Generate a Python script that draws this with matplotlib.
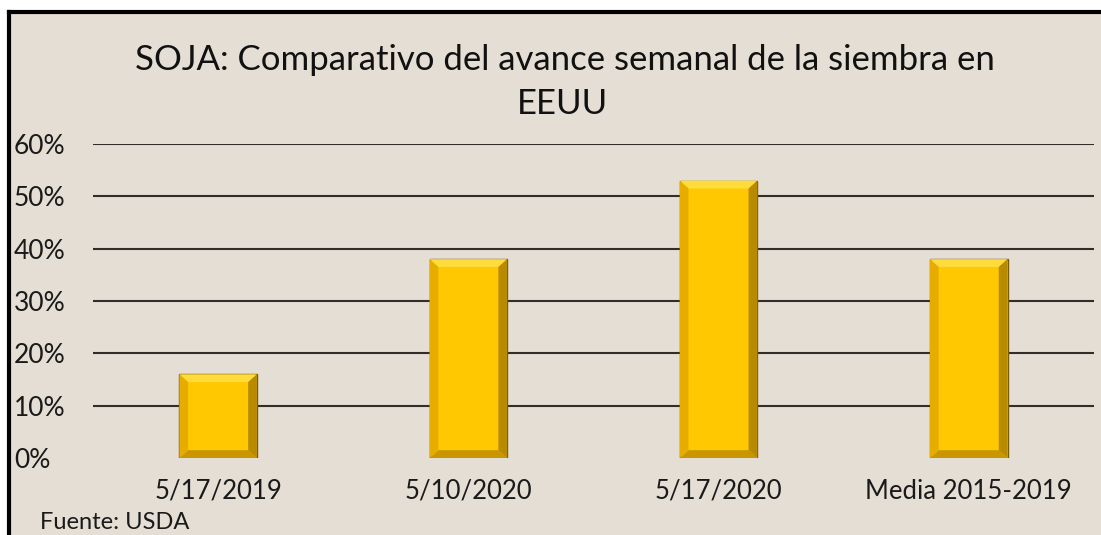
import matplotlib
matplotlib.use('Agg')
import matplotlib.pyplot as plt
from matplotlib.patches import Polygon

# data
categories = ['5/17/2019', '5/10/2020', '5/17/2020', 'Media 2015-2019']
values = [16, 38, 53, 38]
yticks = [0, 10, 20, 30, 40, 50, 60]
ytick_labels = ['0%', '10%', '20%', '30%', '40%', '50%', '60%']

plt.rcParams['font.family'] = ['Lato', 'DejaVu Sans']

bg = '#e4ded4'
fig = plt.figure(figsize=(11.01, 5.35), dpi=100)
fig.patch.set_facecolor('white')

# background panel with black top/left border
panel = fig.add_axes([0.0082, 0, 0.9918, 0.977])
panel.set_facecolor(bg)
panel.set_xticks([])
panel.set_yticks([])
for s in ['right', 'bottom']:
    panel.spines[s].set_visible(False)
for s in ['top', 'left']:
    panel.spines[s].set_linewidth(3)
    panel.spines[s].set_color('black')

ax = fig.add_axes([0.0845, 0.1439, 0.909, 0.5869])
ax.set_facecolor('none')
x = list(range(len(categories)))
w = 0.31
bars = ax.bar(x, values, width=w, color='#ffc800', edgecolor='#7a5c00', linewidth=1.0, zorder=3)

# bevel effect
bx = 0.035
by = 1.5
for xi, v in zip(x, values):
    l, r = xi - w / 2, xi + w / 2
    ax.add_patch(Polygon([(l, v), (r, v), (r - bx, v - by), (l + bx, v - by)],
                         closed=True, facecolor='#ffdc3c', edgecolor='none', zorder=4))
    ax.add_patch(Polygon([(l, 0), (r, 0), (r - bx, by), (l + bx, by)],
                         closed=True, facecolor='#c99600', edgecolor='none', zorder=4))
    ax.add_patch(Polygon([(l, 0), (l + bx, by), (l + bx, v - by), (l, v)],
                         closed=True, facecolor='#e6ad00', edgecolor='none', zorder=4))
    ax.add_patch(Polygon([(r, 0), (r - bx, by), (r - bx, v - by), (r, v)],
                         closed=True, facecolor='#b88a00', edgecolor='none', zorder=4))

ax.set_xlim(-0.5, 3.5)
ax.set_ylim(0, 60)
for t in yticks[1:]:
    ax.axhline(t, color='#332c28', linewidth=1.5, zorder=1)

ax.set_yticks(yticks)
ax.set_yticklabels(ytick_labels, fontsize=19, color='#1a1a1a', ha='left')
ax.set_xticks(x)
ax.set_xticklabels(categories, fontsize=18.5, color='#1a1a1a')
ax.tick_params(axis='y', length=0, pad=57)
ax.tick_params(axis='x', length=0, pad=15)
for s in ax.spines.values():
    s.set_visible(False)

fig.text(0.513, 0.888, 'SOJA: Comparativo del avance semanal de la siembra en',
         fontsize=25, ha='center', va='center', color='#111111')
fig.text(0.511, 0.806, 'EEUU', fontsize=25, ha='center', va='center', color='#111111')
fig.text(0.036, 0.004, 'Fuente: USDA', fontsize=17, ha='left', va='bottom', color='#1a1a1a')

fig.savefig('out.png', dpi=100, facecolor=fig.get_facecolor())
